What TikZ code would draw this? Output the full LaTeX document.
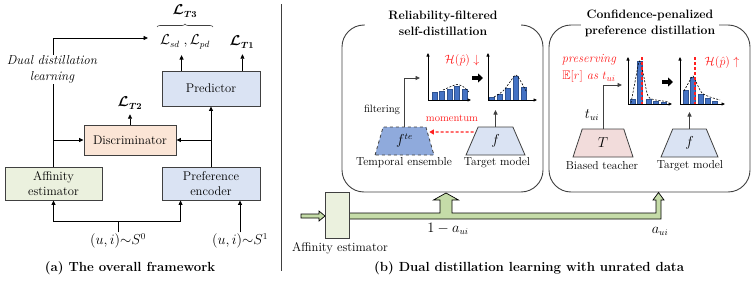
\documentclass[tikz,border=0pt]{standalone}
\usepackage{amsmath,amssymb,bm}
\usetikzlibrary{arrows.meta,shapes.geometric,calc,decorations.pathreplacing}
\definecolor{bluebox}{HTML}{DAE3F3}
\definecolor{peach}{HTML}{FBE5D6}
\definecolor{greenbox}{HTML}{EBF1DE}
\definecolor{pinkbox}{HTML}{F2DCDB}
\definecolor{tebox}{HTML}{8FAADC}
\definecolor{barc}{HTML}{4472C4}
\definecolor{bardark}{HTML}{2F528F}
\definecolor{bandc}{HTML}{C5DCA8}
\definecolor{edge}{HTML}{404040}
\definecolor{myred}{HTML}{FF2020}
\tikzset{
 every node/.style={inner sep=1pt},
 fA/.style={font=\fontsize{12.6}{16}\selectfont},
 fM/.style={font=\fontsize{13.5}{16}\selectfont},
 fB/.style={font=\fontsize{11.6}{14}\selectfont},
 fC/.style={font=\fontsize{10.6}{13}\selectfont},
 box/.style={draw=edge, line width=0.9pt, inner sep=0pt, align=center, fA},
 arr/.style={-{Triangle[length=4.5pt,width=4pt]}, line width=0.8pt},
 trap/.style={trapezium, trapezium stretches=true, trapezium left angle=77,
   trapezium right angle=77, draw=edge, line width=0.8pt, minimum height=28pt,
   inner sep=0pt, fM},
 ttl/.style={font=\fontsize{12.2}{16.5}\selectfont\bfseries, align=center, fill=white, inner sep=1pt},
 capt/.style={font=\fontsize{13.2}{16}\selectfont\bfseries},
 panel/.style={draw=edge, line width=0.9pt, rounded corners=22pt, minimum width=201pt, minimum height=167pt},
 barst/.style={fill=barc, draw=bardark, line width=0.4pt},
 axisst/.style={-{Triangle[length=3.5pt,width=3pt]}, line width=0.7pt},
 fitcurve/.style={line width=0.6pt, dash pattern=on 2pt off 1.5pt},
 reddash/.style={myred, line width=1.1pt, dash pattern=on 3pt off 2pt},
 bandst/.style={fill=bandc, draw=black, line width=0.7pt},
 bigarr/.style={line width=3.5pt, -{Triangle[length=5pt,width=9pt]}},
}
\begin{document}
\begin{tikzpicture}[x=1pt,y=-1pt]
\useasboundingbox (0,0) rectangle (753,281);

% ===================== (a) =====================
\node[box, fill=bluebox, minimum width=98pt, minimum height=35pt] (pred) at (211,88.5) {Predictor};
\node[box, fill=peach, minimum width=92pt, minimum height=30pt] (disc) at (130,140) {Discriminator};
\node[box, fill=greenbox, minimum width=97pt, minimum height=33pt] (aff) at (53.5,183.5) {Affinity\\[-0.5pt]estimator};
\node[box, fill=bluebox, minimum width=98pt, minimum height=33pt] (penc) at (211,183.5) {Preference\\[-0.5pt]encoder};

\node[fM] (lsd) at (185,42) {$\mathcal{L}_{sd}\;,\mathcal{L}_{pd}$};
\node[fM] (lt1) at (242,42) {$\bm{\mathcal{L}}_{\bm{T1}}$};
\node[fM] (lt2) at (130,103) {$\bm{\mathcal{L}}_{\bm{T2}}$};
\node[fM] (lt3) at (185,11) {$\bm{\mathcal{L}}_{\bm{T3}}$};
\draw[decorate, decoration={brace, amplitude=3pt}, line width=0.6pt, edge]
  (157,27) -- (213,27);

\draw[arr] ($(pred.north west)+(20,0)$) coordinate (p1) -- ($(p1 |- lsd.south)+(0,5)$);
\draw[arr] ($(pred.north east)+(-18,0)$) coordinate (p2) -- ($(p2 |- lt1.south)+(0,5)$);
\draw[arr] (disc.north) -- ($(lt2.south)+(0,4)$);

\coordinate (ddend) at (148,38);
\draw[arr] (aff.north) -- (aff.north |- ddend) -- (ddend);
\node[font=\fontsize{13}{15.5}\selectfont\itshape, fill=white, align=center] (ddl) at (52,69.5) {Dual distillation\\learning};
\draw[arr] (aff.north |- disc.west) -- (disc.west);
\draw[arr] (penc.north) -- (pred.south);
\draw[arr] (penc.north |- disc.east) -- (disc.east);

\node[fM] (s0) at (118,241) {$(u,i){\sim}S^0$};
\node[fM] (s1) at (240,241) {$(u,i){\sim}S^1$};
\coordinate (junc) at (118,221);
\draw[line width=0.8pt] (s0.north) -- (junc);
\draw[arr] (junc) -| (aff.south);
\draw[arr] (junc) -| ($(penc.south west)+(19,0)$);
\draw[arr] (s1.north) -- (s1.north |- penc.south);

\node[capt] (capa) at (130,268) {(a) The overall framework};

\draw[edge, line width=0.9pt] (281,4) -- (281,271);

% ===================== (b) =====================
\node[panel] (pan1) at (442.5,108.5) {};
\node[panel] (pan2) at (649.5,108.5) {};
\node[ttl, minimum width=156pt] (t1) at (443,23.5) {Reliability-filtered\\self-distillation};
\node[ttl, minimum width=138pt] (t2) at (650,23.5) {Confidence-penalized\\preference distillation};

% trapezoids
\node[trap, fill=tebox, dashed, minimum width=59pt] (fte) at (404.5,141) {$f^{te}$};
\node[trap, fill=bluebox, minimum width=59pt] (tm1) at (495.5,141) {$f$};
\node[trap, fill=pinkbox, minimum width=60pt] (tch) at (603,143) {$T$};
\node[trap, fill=bluebox, minimum width=57pt] (tm2) at (689.5,143) {$f$};
\node[fB] (lte) at (404,163) {Temporal ensemble};
\node[fB] (ltm1) at (497,163) {Target model};
\node[fB] (ltch) at (602,166) {Biased teacher};
\node[fB] (ltm2) at (690,166) {Target model};

% chart 1
\foreach \l/\t in {432/92,439.5/91,447/89,454.5/86,462/89}
  \draw[barst] (\l,100) rectangle (\l+5,\t);
\draw[axisst] (428,100) -- (428,53);
\draw[axisst] (428,100) -- (471,100);
\draw[fitcurve] plot[smooth] coordinates {(443,90) (451,86.5) (457,84.5) (463,86.5) (469,92)};
% chart 2
\foreach \l/\t in {489/97,497/94,505/88,513/76,521/87}
  \draw[barst] (\l,100) rectangle (\l+5,\t);
\draw[axisst] (488,100) -- (488,53);
\draw[axisst] (488,100) -- (537,100);
\draw[fitcurve] plot[smooth] coordinates {(494,97) (503,91) (510,82) (515.5,75) (520,80) (526,91)};
\draw[bigarr] (472,78) -- (483,78);
\node[fB, text=myred] (hd) at (462,60) {$\mathcal{H}(\hat{p})\downarrow$};

% chart 3
\foreach \l/\t in {630/99,637.5/61,646/99,653/101,661/102}
  \draw[barst] (\l,104) rectangle (\l+5,\t);
\draw[axisst] (628,104) -- (628,57);
\draw[axisst] (628,104) -- (672,104);
\draw[fitcurve] plot[smooth] coordinates {(631,103) (635,82) (639.5,61) (643.5,75) (648,96) (656,100) (668,101.5)};
\draw[reddash] (642,57) -- (642,104);
% chart 4
\foreach \l/\t in {683/90,690.5/77,698/94,705/98,712.5/101}
  \draw[barst] (\l,104) rectangle (\l+5,\t);
\draw[axisst] (680,104) -- (680,57);
\draw[axisst] (680,104) -- (725,104);
\draw[fitcurve] plot[smooth] coordinates {(684,91) (689,82) (693,76) (697,84) (702,93) (710,97) (720,100)};
\draw[reddash] (695,57) -- (695,104);
\draw[bigarr] (662,82) -- (673,82);
\node[fB, text=myred] (hu) at (722,62) {$\mathcal{H}(\hat{p})\uparrow$};

\node[text=myred, align=center, font=\fontsize{12.5}{17}\selectfont] (pres) at (589,68.5)
  {\textit{preserving}\\$\mathbb{E}[r]$ \textit{as} $t_{ui}$};

% connectors in panels
\coordinate (c1in) at (420,78);
\draw[arr, edge] (fte.north) -- (fte.north |- c1in) -- (c1in);
\node[fC] (filt) at (382,110) {filtering};
\draw[reddash, -{Triangle[length=4.5pt,width=5pt]}] ($(tm1.west)+(2,-9)$) -- ($(fte.east)+(-1,-9)$);
\node[fC, text=myred] (mom) at (452,118) {momentum};
\draw[arr, edge] (tm1.north) -- (tm1.north |- 0,110);

\coordinate (c3in) at (622,85);
\draw[arr, edge] (tch.north) -- (tch.north |- c3in) -- (c3in);
\node[fM] (tui) at (592,115) {$t_{ui}$};
\draw[arr, edge] (tm2.north) -- (tm2.north |- 0,112);

% bottom band
\draw[bandst] (301,214) -- (319,214) -- (319,211) -- (325,216) -- (319,221) -- (319,218) -- (301,218) -- cycle;
\draw[bandst] (349,213) -- (440,213) -- (440,200) -- (433.5,200) -- (446,193) -- (458.5,200) -- (452,200)
  -- (452,213) -- (656,213) -- (656,200) -- (653,200) -- (658.5,192.5) -- (664,200) -- (661,200)
  -- (661,219) -- (349,219) -- cycle;
\node[draw=edge, fill=greenbox, line width=0.8pt, minimum width=24pt, minimum height=46pt, inner sep=0pt] (aff2) at (337,215) {};
\node[fA] (aff2l) at (340,248) {Affinity estimator};
\node[fM] (la1) at (448,229) {$1-a_{ui}$};
\node[fM] (la2) at (660,231) {$a_{ui}$};

\node[capt] (capb) at (529,268) {(b) Dual distillation learning with unrated data};
\end{tikzpicture}
\end{document}
